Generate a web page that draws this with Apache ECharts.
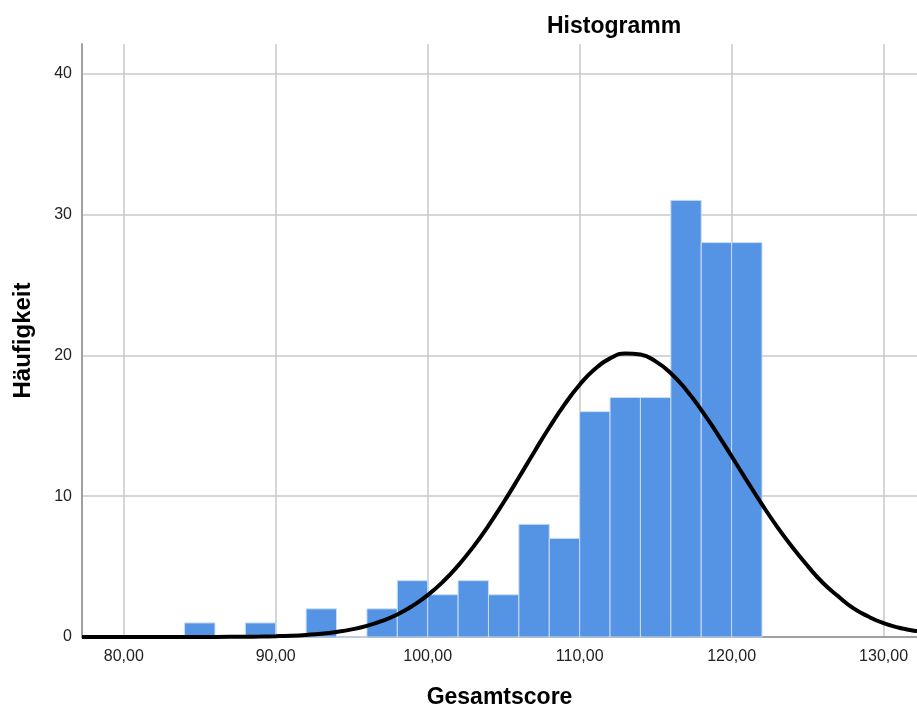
<!DOCTYPE html>
<html>
<head>
<meta charset="utf-8">
<script src="https://cdn.jsdelivr.net/npm/echarts@6/dist/echarts.min.js"></script>
<style>html,body{margin:0;padding:0;background:#fff}#c{width:917px;height:706px}</style>
</head>
<body>
<div id="c"></div>
<script>
// Histogram bins (start of each bin, width 2) and counts
const binStarts = [84, 86, 88, 90, 92, 94, 96, 98, 100, 102, 104, 106, 108, 110, 112, 114, 116, 118, 120];
const binWidth = 2;
const counts    = [1, 0, 1, 0, 2, 0, 2, 4, 3, 4, 3, 8, 7, 16, 17, 17, 31, 28, 28];
// Normal curve
const curveX = [77.25, 80, 84, 86, 88, 89, 90, 91, 92, 93, 94, 95, 96, 97, 98, 99, 100, 101, 102, 103, 104, 105, 106, 107, 108, 109, 110, 111, 112, 113, 114, 115, 116, 117, 118, 119, 120, 121, 122, 123, 124, 125, 126, 127, 128, 129, 130, 131, 132, 132.2];
const curveY = [0, 0, 0.002, 0.006, 0.02, 0.034, 0.057, 0.093, 0.15, 0.23, 0.36, 0.54, 0.79, 1.14, 1.6, 2.21, 2.97, 3.92, 5.07, 6.4, 7.91, 9.57, 11.32, 13.12, 14.87, 16.5, 17.91, 19.03, 19.78, 20.13, 20.05, 19.57, 18.73, 17.56, 16.13, 14.53, 12.83, 11.1, 9.41, 7.82, 6.37, 5.05, 3.85, 2.9, 2.05, 1.45, 0.98, 0.66, 0.45, 0.42];
const xTicks = [80, 90, 100, 110, 120, 130];
const yTicks = [0, 10, 20, 30, 40];

const FONT = '"Liberation Sans", Arial, sans-serif';
const chart = echarts.init(document.getElementById('c'), null, {renderer: 'canvas'});

const barData = binStarts.map((s, i) => [s, s + binWidth, counts[i]]);
const lineData = curveX.map((x, i) => [x, curveY[i]]);

chart.setOption({
  animation: false,
  backgroundColor: '#ffffff',
  title: {
    text: 'Histogramm',
    left: 542, top: 10,
    textStyle: {fontFamily: FONT, fontSize: 23, fontWeight: 'bold', color: '#000'}
  },
  grid: {left: 82, right: 0, top: 44, bottom: 69, containLabel: false, outerBoundsMode: 'none'},
  xAxis: {
    type: 'value', min: 77.25, max: 132.2, splitNumber: 5,
    name: 'Gesamtscore', nameLocation: 'middle', nameGap: 49,
    nameTextStyle: {fontFamily: FONT, fontSize: 23, fontWeight: 'bold', color: '#000'},
    axisLine: {show: true, lineStyle: {color: '#a0a0a0', width: 2}},
    axisTick: {show: false},
    axisLabel: {
      showMinLabel: false, showMaxLabel: false,
      margin: 12, fontFamily: FONT, fontSize: 16, color: '#222',
      formatter: v => xTicks.includes(Math.round(v * 100) / 100) ? v.toFixed(2).replace('.', ',') : ''
    },
    splitLine: {show: true, showMinLine: false, showMaxLine: false, lineStyle: {color: '#c8c8c8', width: 1.5}}
  },
  yAxis: {
    type: 'value', min: 0, max: 42.1, splitNumber: 4,
    name: 'Häufigkeit', nameLocation: 'middle', nameGap: 47, nameRotate: 90,
    nameTextStyle: {fontFamily: FONT, fontSize: 24, fontWeight: 'bold', color: '#000'},
    axisLine: {show: true, lineStyle: {color: '#a0a0a0', width: 2}},
    axisTick: {show: false},
    axisLabel: {
      showMaxLabel: false,
      margin: 10, fontFamily: FONT, fontSize: 16, color: '#222',
      formatter: v => yTicks.includes(Math.round(v * 100) / 100) ? String(v) : ''
    },
    splitLine: {show: true, showMinLine: false, showMaxLine: false, lineStyle: {color: '#c8c8c8', width: 1.5}}
  },
  series: [
    {
      type: 'custom',
      data: barData,
      encode: {x: [0, 1], y: 2},
      renderItem: function (params, api) {
        const p0 = api.coord([api.value(0), api.value(2)]);
        const p1 = api.coord([api.value(1), 0]);
        return {
          type: 'rect',
          shape: {x: p0[0], y: p0[1], width: p1[0] - p0[0], height: p1[1] - p0[1]},
          style: {fill: '#5594e4', stroke: '#c9dcf5', lineWidth: 1}
        };
      },
      z: 2
    },
    {
      type: 'line',
      data: lineData,
      smooth: true,
      showSymbol: false,
      symbol: 'none',
      lineStyle: {color: '#000', width: 4},
      z: 3
    }
  ]
});
</script>
</body>
</html>
